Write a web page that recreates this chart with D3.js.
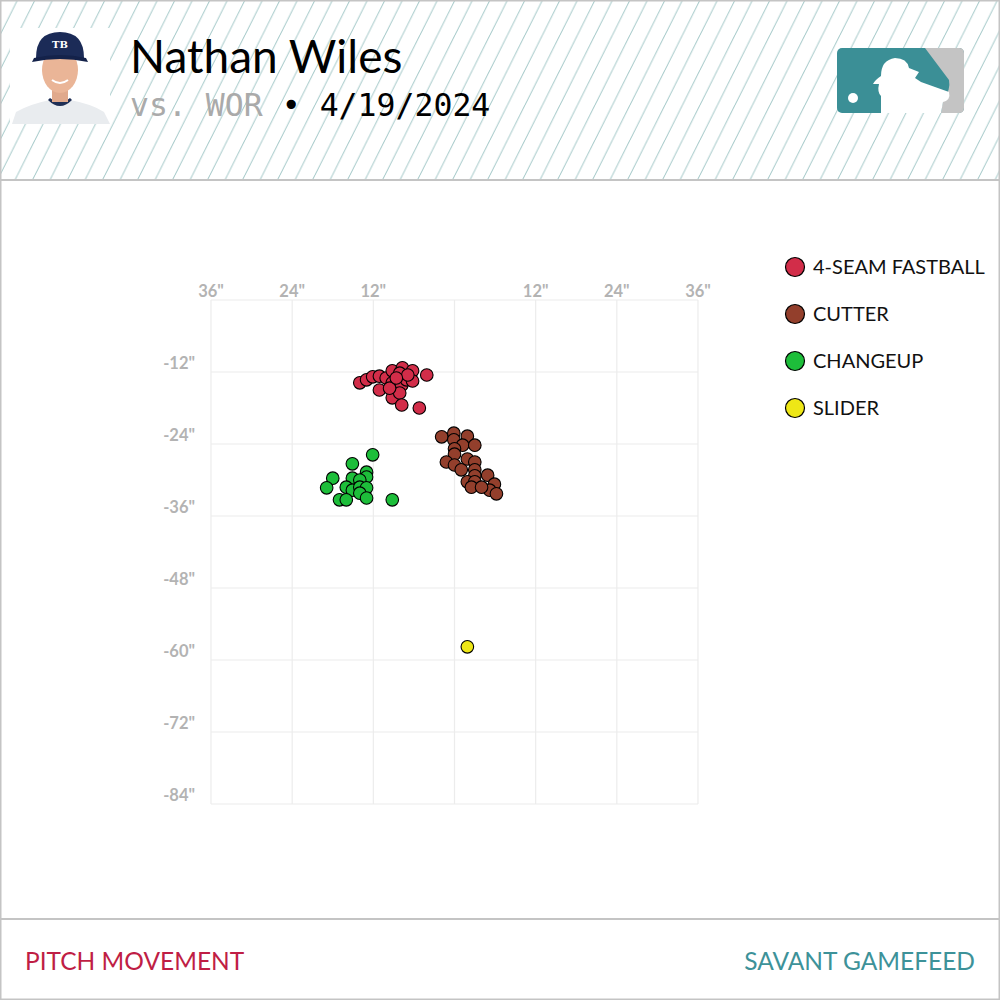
<!DOCTYPE html>
<html>
<head>
  <meta charset="utf-8">
  <title>Pitch Movement</title>
  <script src="https://d3js.org/d3.v7.min.js"></script>
  <style>
    body, html {
      margin: 0;
      padding: 0;
      width: 100%;
      height: 100%;
      overflow: hidden;
      background: #fff;
    }
    svg {
      display: block;
    }
  </style>
</head>
<body>
  <svg id="chart" width="1000" height="1000"></svg>

  <script>
    // pitch data, horizontal break / induced vertical break in inches
    var pitchTypes = ["4-SEAM FASTBALL", "CUTTER", "CHANGEUP", "SLIDER"];
    var pitchColors = ["#d22d49", "#933f2c", "#1dbe3a", "#eee716"];

    var fastball = [
      [-14.0, -13.8], [-13.0, -13.3], [-12.1, -12.8], [-11.1, -12.7], [-11.1, -15.0],
      [-10.1, -13.0], [-9.2, -11.8], [-7.7, -11.3], [-6.2, -11.8], [-4.1, -12.5],
      [-8.1, -12.2], [-9.2, -13.8], [-7.8, -14.2], [-7.1, -13.3], [-6.2, -13.5],
      [-9.2, -16.3], [-8.1, -15.5], [-7.8, -17.5], [-5.2, -18.0], [-9.6, -14.7],
      [-6.9, -12.5], [-8.6, -13.0]
    ];
    var cutter = [
      [-1.9, -22.8], [-0.1, -22.2], [1.9, -22.7], [-0.1, -23.3], [1.2, -24.2],
      [3.0, -24.2], [0.0, -24.8], [0.0, -25.7], [-1.2, -27.0], [0.0, -27.5],
      [1.0, -28.3], [1.9, -26.5], [3.0, -27.0], [3.0, -28.3], [3.0, -29.3],
      [1.9, -30.3], [3.0, -30.3], [2.5, -31.2], [4.9, -29.2], [5.9, -30.7],
      [5.2, -31.7], [6.2, -32.3], [4.0, -31.2]
    ];
    var changeup = [
      [-12.1, -25.8], [-15.1, -27.3], [-18.0, -29.7], [-18.9, -31.3], [-15.1, -29.7],
      [-13.0, -28.7], [-13.0, -29.5], [-14.0, -30.0], [-16.0, -31.2], [-15.1, -31.7],
      [-14.0, -31.2], [-13.0, -31.3], [-14.0, -32.2], [-13.0, -33.0], [-17.0, -33.3],
      [-16.0, -33.3], [-9.2, -33.3]
    ];
    var slider = [
      [1.9, -57.8]
    ];

    var xTicks = [-36, -24, -12, 0, 12, 24, 36];
    var yTicks = [0, -12, -24, -36, -48, -60, -72, -84];

    var svg = d3.select("#chart");
    var W = 1000, H = 1000;

    // ---- header with hatching ----
    var defs = svg.append("defs");
    var pat = defs.append("pattern")
      .attr("id", "hatch")
      .attr("patternUnits", "userSpaceOnUse")
      .attr("width", 17.5)
      .attr("height", 35);
    [-17.5, 0, 17.5].forEach(function(off) {
      pat.append("line")
        .attr("x1", off).attr("y1", 35)
        .attr("x2", off + 17.5).attr("y2", 0)
        .attr("stroke", "#a3c8c8").attr("stroke-width", 1);
    });

    svg.append("rect")
      .attr("x", 0).attr("y", 0)
      .attr("width", W).attr("height", 180)
      .attr("fill", "url(#hatch)");

    // frame lines
    svg.append("rect")
      .attr("x", 0.5).attr("y", 0.5)
      .attr("width", W - 1).attr("height", H - 1)
      .attr("fill", "none")
      .attr("stroke", "#c4c4c4").attr("stroke-width", 2);
    svg.append("line")
      .attr("x1", 0).attr("x2", W).attr("y1", 180).attr("y2", 180)
      .attr("stroke", "#c4c4c4").attr("stroke-width", 2);
    svg.append("line")
      .attr("x1", 0).attr("x2", W).attr("y1", 919).attr("y2", 919)
      .attr("stroke", "#c4c4c4").attr("stroke-width", 2);

    // headshot (simple drawing in place of the photo)
    var head = svg.append("g").attr("transform", "translate(10,28)");
    head.append("rect").attr("x", 0).attr("y", 0).attr("width", 100).attr("height", 96).attr("fill", "#fff");
    head.append("path")
      .attr("d", "M2,96 L6,84 Q20,76 40,72 L60,72 Q82,76 94,84 L100,96 Z")
      .attr("fill", "#e9ecef");
    head.append("path")
      .attr("d", "M38,72 Q50,84 62,72 L60,70 Q50,78 40,70 Z")
      .attr("fill", "#1f2f55");
    head.append("rect").attr("x", 42).attr("y", 58).attr("width", 16).attr("height", 16).attr("fill", "#e0a98c");
    head.append("ellipse").attr("cx", 50).attr("cy", 42).attr("rx", 18).attr("ry", 23).attr("fill", "#eab597");
    head.append("path")
      .attr("d", "M26,30 Q26,4 50,4 Q74,4 74,30 Z")
      .attr("fill", "#1b2b57");
    head.append("path")
      .attr("d", "M24,30 Q50,24 76,30 L78,34 Q50,28 22,34 Z")
      .attr("fill", "#14224a");
    head.append("text")
      .attr("x", 50).attr("y", 20)
      .attr("text-anchor", "middle")
      .style("font-family", "DejaVu Serif")
      .style("font-size", "10px")
      .style("font-weight", "bold")
      .attr("fill", "#fff")
      .text("TB");
    head.append("path")
      .attr("d", "M42,52 Q50,58 58,52")
      .attr("fill", "none").attr("stroke", "#fff").attr("stroke-width", 2);

    // title
    svg.append("text")
      .attr("x", 130).attr("y", 73)
      .style("font-family", "Lato")
      .style("font-size", "46px")
      .attr("fill", "#000")
      .text("Nathan Wiles");

    var sub = svg.append("text")
      .attr("x", 130).attr("y", 116)
      .style("font-family", "DejaVu Sans Mono")
      .style("font-size", "31.5px");
    sub.append("tspan").attr("fill", "#aaaaaa").text("vs. WOR ");
    sub.append("tspan").attr("fill", "#000").text("\u2022 4/19/2024");

    // MLB logo
    var logo = svg.append("g").attr("transform", "translate(837,48)");
    logo.append("rect").attr("x", 0).attr("y", 0).attr("width", 127).attr("height", 65).attr("rx", 5)
      .attr("fill", "#3b8f96");
    logo.append("path")
      .attr("d", "M88,0 L122,0 Q127,0 127,5 L127,60 Q127,65 122,65 L104,65 L106,52 Q114,42 112,32 Z")
      .attr("fill", "#c4c4c4");
    logo.append("path")
      .attr("d", "M44,65 L44,48 Q40,44 42,36 L36,36 Q38,32 44,28 Q44,12 58,10 Q70,10 72,20 L82,24 L78,30 L84,34 L112,44 Q114,52 106,54 L104,65 Z")
      .attr("fill", "#fff");
    logo.append("circle").attr("cx", 16).attr("cy", 50).attr("r", 5).attr("fill", "#fff");

    // ---- plot ----
    var xScale = d3.scaleLinear().domain([-36, 36]).range([211, 698]);
    var yScale = d3.scaleLinear().domain([0, -84]).range([300, 804]);

    var grid = svg.append("g");
    grid.selectAll("line.vx")
      .data(xTicks)
      .join("line")
      .attr("class", "vx")
      .attr("x1", d => xScale(d)).attr("x2", d => xScale(d))
      .attr("y1", yScale(0)).attr("y2", yScale(-84))
      .attr("stroke", "#ececec").attr("stroke-width", 1.2);
    grid.selectAll("line.hy")
      .data(yTicks)
      .join("line")
      .attr("class", "hy")
      .attr("x1", xScale(-36)).attr("x2", xScale(36))
      .attr("y1", d => yScale(d)).attr("y2", d => yScale(d))
      .attr("stroke", "#ececec").attr("stroke-width", 1.2);

    svg.append("g").selectAll("text")
      .data(xTicks.filter(d => d !== 0))
      .join("text")
      .attr("x", d => xScale(d))
      .attr("y", 297)
      .attr("text-anchor", "middle")
      .style("font-family", "Lato")
      .style("font-weight", "bold")
      .style("font-size", "16.5px")
      .attr("fill", "#b3b3b3")
      .text(d => Math.abs(d) + "\"");

    svg.append("g").selectAll("text")
      .data(yTicks.filter(d => d !== 0))
      .join("text")
      .attr("x", 195)
      .attr("y", d => yScale(d) - 3)
      .attr("text-anchor", "end")
      .style("font-family", "Lato")
      .style("font-weight", "bold")
      .style("font-size", "16.5px")
      .attr("fill", "#b3b3b3")
      .text(d => d + "\"");

    var series = [fastball, cutter, changeup, slider];
    series.forEach(function(pts, i) {
      svg.append("g").selectAll("circle")
        .data(pts)
        .join("circle")
        .attr("cx", d => xScale(d[0]))
        .attr("cy", d => yScale(d[1]))
        .attr("r", 6.3)
        .attr("fill", pitchColors[i])
        .attr("stroke", "#000")
        .attr("stroke-width", 1.1);
    });

    // legend
    var legend = svg.append("g").selectAll("g")
      .data(pitchTypes)
      .join("g")
      .attr("transform", (d, i) => "translate(795," + (267 + i * 47) + ")");
    legend.append("circle")
      .attr("r", 9.5)
      .attr("fill", (d, i) => pitchColors[i])
      .attr("stroke", "#000").attr("stroke-width", 1.2);
    legend.append("text")
      .attr("x", 18).attr("y", 7)
      .style("font-family", "Lato")
      .style("font-size", "20px")
      .attr("fill", "#111")
      .text(d => d);

    // footer
    svg.append("text")
      .attr("x", 25).attr("y", 970)
      .style("font-family", "Lato")
      .style("font-size", "24.5px")
      .attr("fill", "#bf1e45")
      .text("PITCH MOVEMENT");
    svg.append("text")
      .attr("x", 975).attr("y", 970)
      .attr("text-anchor", "end")
      .style("font-family", "Lato")
      .style("font-size", "24.5px")
      .attr("fill", "#3d9299")
      .text("SAVANT GAMEFEED");
  </script>
</body>
</html>
